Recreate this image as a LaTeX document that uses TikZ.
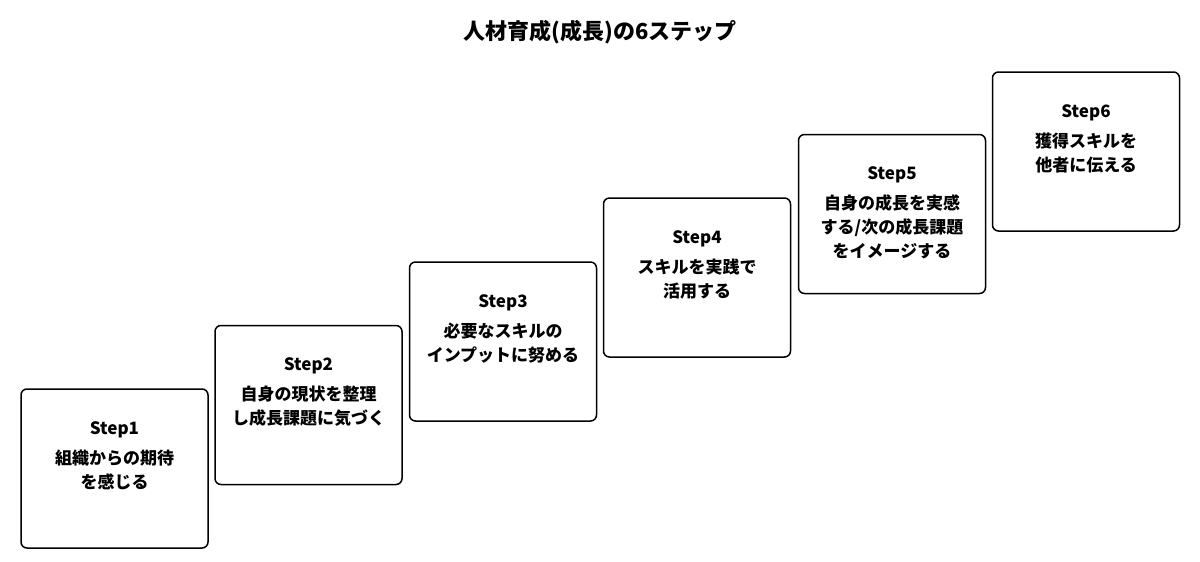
\documentclass[tikz,border=0pt]{standalone}
\usepackage{fontspec}
\newfontfamily\jp{Noto Sans CJK JP}
\begin{document}
\begin{tikzpicture}[x=1pt,y=-1pt,
  stepbox/.style={draw=black, line width=1.5pt, rounded corners=6pt, minimum width=187pt, minimum height=159pt, inner sep=0pt, fill=white},
  steplabel/.style={font=\jp\bfseries\fontsize{17}{24}\selectfont, inner sep=0pt, anchor=base},
  stepbody/.style={font=\jp\bfseries\fontsize{17}{24}\selectfont, inner sep=0pt, align=center, anchor=base},
  titlestyle/.style={font=\jp\bfseries\fontsize{22}{26}\selectfont, inner sep=0pt}]
\useasboundingbox[fill=white] (0,0) rectangle (1200,562);
\node[titlestyle] (title) at (600,32) {人材育成(成長)の6ステップ};
\node[stepbox] (b1) at (114.5,468.5) {};
\node[stepbox] (b2) at (308.5,405) {};
\node[stepbox] (b3) at (503,341.5) {};
\node[stepbox] (b4) at (697,277.5) {};
\node[stepbox] (b5) at (892,214) {};
\node[stepbox] (b6) at (1086,151.5) {};
\foreach \i/\s/\t in {1/54/{組織からの期待\\を感じる},2/54/{自身の現状を整理\\し成長課題に気づく},3/54/{必要なスキルの\\インプットに努める},4/54/{スキルを実践で\\活用する},5/78/{自身の成長を実感\\する/次の成長課題\\をイメージする},6/54/{獲得スキルを\\他者に伝える}}{
  \node[steplabel] (l\i) at ([yshift=-46pt]b\i.north) {Step\i};
  \node[stepbody] (t\i) at ([yshift=-\s pt]l\i.base) {\t};
}
\end{tikzpicture}
\end{document}
